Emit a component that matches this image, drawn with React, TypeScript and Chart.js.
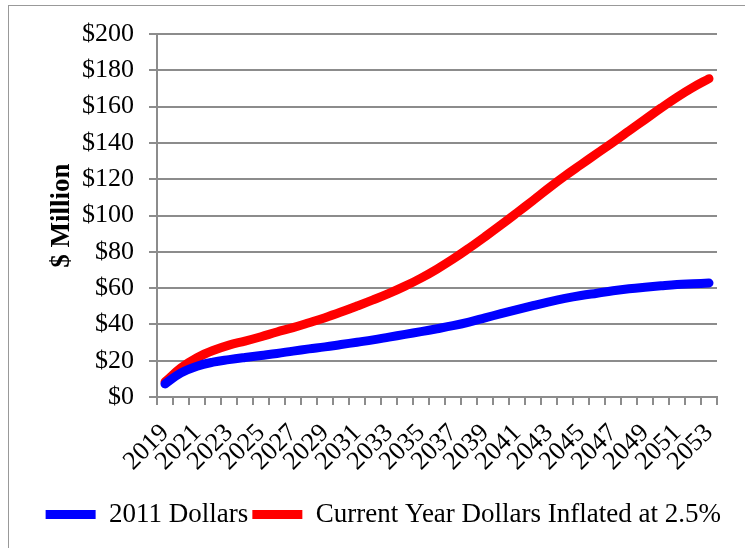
import React, { useEffect, useRef } from "react";
import { Chart, registerables } from "chart.js";

Chart.register(...registerables);

const years: string[] = [
  "2019","2020","2021","2022","2023","2024","2025","2026","2027","2028",
  "2029","2030","2031","2032","2033","2034","2035","2036","2037","2038",
  "2039","2040","2041","2042","2043","2044","2045","2046","2047","2048",
  "2049","2050","2051","2052","2053",
];

const dollars2011: number[] = [
  7.2, 13.3, 17, 19.2, 20.6, 21.8, 22.9, 24, 25.3, 26.5,
  27.6, 28.9, 30.2, 31.5, 33, 34.5, 36, 37.6, 39.3, 41.3,
  43.6, 45.9, 48.1, 50.3, 52.4, 54.3, 55.9, 57.2, 58.5, 59.6,
  60.5, 61.3, 62, 62.4, 62.8,
];

const currentYearDollars: number[] = [
  8.3, 16, 21.6, 25.6, 28.6, 30.8, 33.2, 35.8, 38.2, 40.9,
  43.7, 46.8, 50.1, 53.5, 57.1, 61.1, 65.5, 70.5, 76, 82,
  88.3, 94.8, 101.5, 108.3, 115.2, 121.8, 128, 134.2, 140.3, 146.6,
  152.9, 159.2, 165.2, 170.6, 175.4,
];

const seriesNames: string[] = ["2011 Dollars", "Current Year Dollars Inflated at 2.5%"];
const yTitle = "$ Million";

const FONT = "'Liberation Serif', 'Times New Roman', serif";
const GRID = "#8c8c8c";

const legendShift = {
  id: "legendShift",
  afterLayout(chart: any) {
    const lg = chart.legend;
    if (lg) {
      lg.left += 8;
      lg.right += 8;
    }
  },
};

export default function App() {
  const ref = useRef<HTMLCanvasElement | null>(null);

  useEffect(() => {
    if (!ref.current) return;
    const chart = new Chart(ref.current, {
      type: "line",
      data: {
        labels: years,
        datasets: [
          {
            label: seriesNames[0],
            data: dollars2011,
            borderColor: "#0000ff",
            backgroundColor: "#0000ff",
            borderWidth: 9,
            borderCapStyle: "round",
            pointRadius: 0,
            tension: 0.4,
          },
          {
            label: seriesNames[1],
            data: currentYearDollars,
            borderColor: "#ff0000",
            backgroundColor: "#ff0000",
            borderWidth: 9,
            borderCapStyle: "round",
            pointRadius: 0,
            tension: 0.4,
          },
        ],
      },
      plugins: [legendShift],
      options: {
        responsive: false,
        animation: false,
        layout: { padding: { left: 0, right: 28, top: 34, bottom: 10 } },
        plugins: {
          tooltip: { enabled: false },
          legend: {
            position: "bottom",
            align: "end",
            labels: {
              usePointStyle: true,
              pointStyle: "line",
              pointStyleWidth: 50,
              boxHeight: 9,
              padding: 4,
              color: "#000",
              font: { family: FONT, size: 27 },
            },
          },
        },
        scales: {
          x: {
            offset: true,
            grid: {
              offset: true,
              drawOnChartArea: false,
              drawTicks: true,
              tickLength: 8,
              color: GRID,
              lineWidth: 2,
            },
            border: { color: GRID, width: 2 },
            ticks: {
              autoSkip: false,
              minRotation: 45,
              maxRotation: 45,
              padding: 13,
              color: "#000",
              font: { family: FONT, size: 26 },
              callback: (_v: any, i: number) => (i % 2 === 0 ? years[i] : ""),
            },
            afterFit: (s: any) => {
              s.height = 100;
            },
          },
          y: {
            min: 0,
            max: 200,
            ticks: {
              stepSize: 20,
              autoSkip: false,
              padding: 15,
              color: "#000",
              font: { family: FONT, size: 26 },
              callback: (v: any) => "$" + v,
            },
            grid: {
              color: GRID,
              lineWidth: 2,
              tickLength: 8,
            },
            border: { color: GRID, width: 2 },
            title: {
              display: true,
              text: yTitle,
              color: "#000",
              font: { family: FONT, size: 27, weight: "bold" },
              padding: { top: 46, bottom: 0 },
            },
            afterFit: (s: any) => {
              s.width = 157;
            },
          },
        },
      },
    });
    return () => chart.destroy();
  }, []);

  return (
    <>
      <div
        style={{
          position: "fixed",
          left: 8,
          top: 5,
          width: 800,
          height: 600,
          border: "1px solid #999",
          boxSizing: "border-box",
        }}
      />
      <div style={{ position: "fixed", left: 0, top: 0, width: 745, height: 548 }}>
        <canvas ref={ref} width={745} height={548} />
      </div>
    </>
  );
}
